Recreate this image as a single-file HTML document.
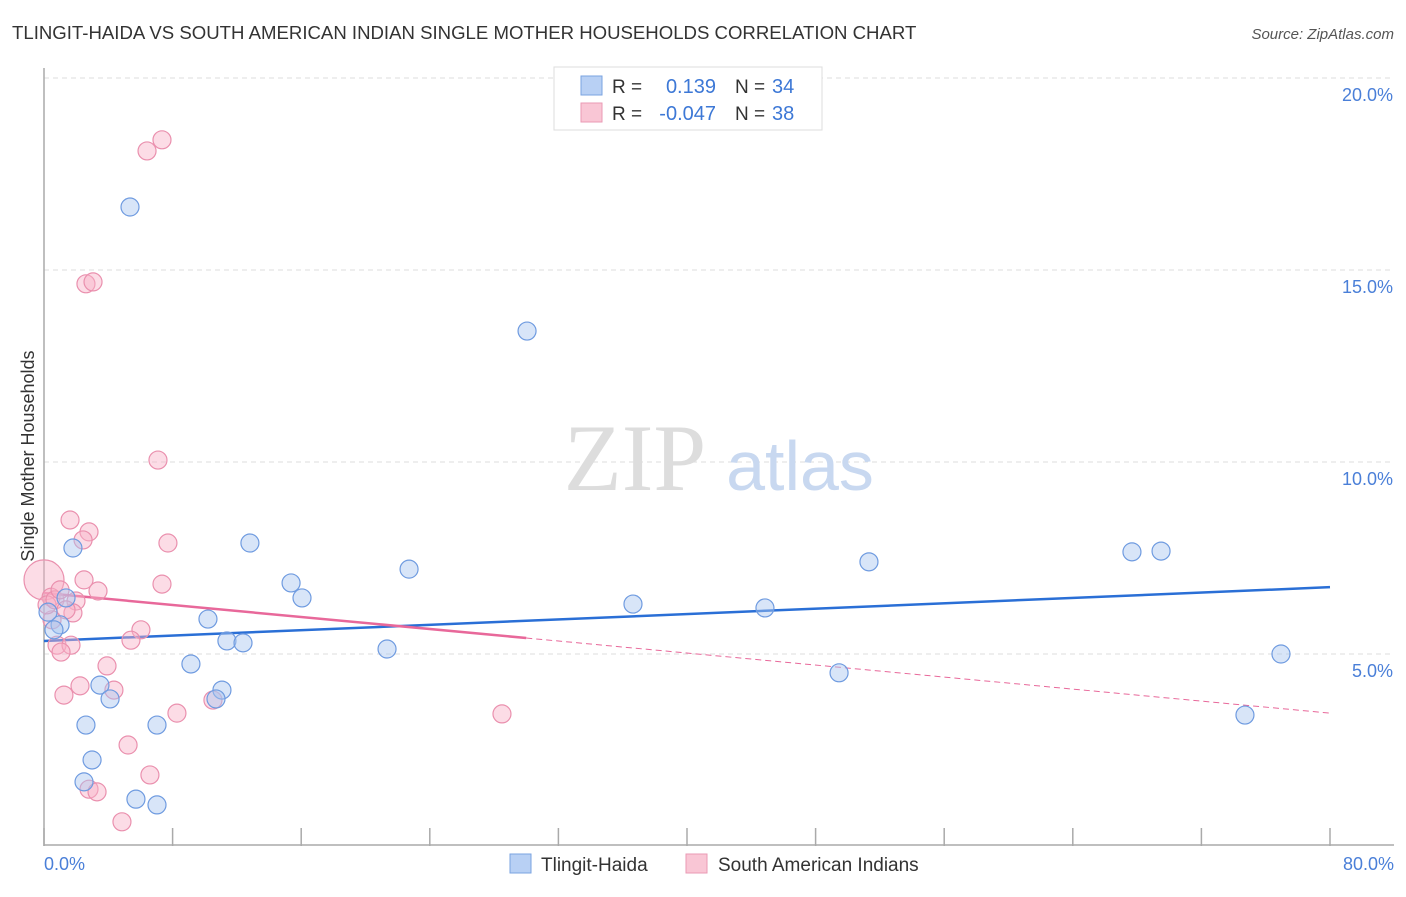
<!DOCTYPE html>
<html><head><meta charset="utf-8"><style>
body{margin:0;background:#fff;font-family:"Liberation Sans",sans-serif;}
svg text{font-family:"Liberation Sans",sans-serif;}
</style></head><body>
<svg id="chart" width="1406" height="892" xmlns="http://www.w3.org/2000/svg">
<text x="12" y="39" font-size="18.6" fill="#333">TLINGIT-HAIDA VS SOUTH AMERICAN INDIAN SINGLE MOTHER HOUSEHOLDS CORRELATION CHART</text>
<text x="1394" y="39" font-size="15" fill="#555" font-style="italic" text-anchor="end">Source: ZipAtlas.com</text>
<g id="grid"></g>
<text x="635" y="490" font-size="95" fill="#ddd" style="font-family:'Liberation Serif',serif" text-anchor="middle">ZIP</text>
<text x="800" y="490" font-size="70" fill="#c8d8f0" text-anchor="middle">atlas</text>
<line x1="44" y1="68" x2="44" y2="846" stroke="#aaa" stroke-width="1.5"/>
<line x1="44" y1="845" x2="1394" y2="845" stroke="#aaa" stroke-width="1.5"/>
<g id="xticks"></g>
<text x="44" y="870" font-size="18" fill="#4a7fd8">0.0%</text>
<text x="1394" y="870" font-size="18" fill="#4a7fd8" text-anchor="end">80.0%</text>
<text transform="translate(34,456) rotate(-90)" font-size="18" fill="#333" text-anchor="middle">Single Mother Households</text>
<g id="trends"></g>
<g id="points"></g>
<g>
<rect x="554" y="67" width="268" height="63" fill="#fff" stroke="#ddd"/>
<rect x="581" y="76" width="21" height="19" fill="#b8d0f4" stroke="#7aa3e0"/>
<rect x="581" y="103" width="21" height="19" fill="#f9c6d5" stroke="#ea9ab4"/>
<text x="612" y="93" font-size="19" fill="#333">R =</text>
<text x="716" y="93" font-size="20" fill="#3d78d6" text-anchor="end">0.139</text>
<text x="735" y="93" font-size="19" fill="#333">N =</text>
<text x="772" y="93" font-size="20" fill="#3d78d6">34</text>
<text x="612" y="120" font-size="19" fill="#333">R =</text>
<text x="716" y="120" font-size="20" fill="#3d78d6" text-anchor="end">-0.047</text>
<text x="735" y="120" font-size="19" fill="#333">N =</text>
<text x="772" y="120" font-size="20" fill="#3d78d6">38</text>
</g>
<g>
<rect x="510" y="854" width="21" height="19" fill="#b8d0f4" stroke="#7aa3e0"/>
<text x="541" y="871" font-size="19" fill="#333">Tlingit-Haida</text>
<rect x="686" y="854" width="21" height="19" fill="#f9c6d5" stroke="#ea9ab4"/>
<text x="718" y="871" font-size="19" fill="#333">South American Indians</text>
</g>
</svg>
<script>
const yTicks=[5,10,15,20];
const yTickLabels=["5.0%","10.0%","15.0%","20.0%"];
const xTicks=[0,8,16,24,32,40,48,56,64,72,80];
const blueX=[5.35,30.05,1.80,12.81,1.37,15.37,16.05,22.71,10.20,1.00,0.62,11.38,12.38,21.34,9.14,3.48,4.11,11.07,10.70,2.61,7.03,2.99,2.49,5.72,7.03,36.64,44.85,51.32,49.46,67.68,69.49,76.95,74.71,0.25];
const blueY=[16.64,13.41,7.76,7.89,6.46,6.85,6.46,7.21,5.91,5.76,5.63,5.34,5.29,5.13,4.74,4.19,3.83,4.06,3.83,3.15,3.15,2.24,1.67,1.22,1.07,6.30,6.20,7.40,4.51,7.66,7.68,5.00,3.41,6.09];
const pinkX=[6.41,7.34,2.61,3.05,7.09,1.62,2.80,2.43,7.71,2.49,0,7.34,3.36,0.44,1.99,1.80,0.50,6.03,5.41,0.81,1.68,1.06,3.92,2.24,4.35,1.24,8.27,10.51,28.49,5.23,6.59,2.80,3.30,4.85,0.19,0.68,1.37,1.0];
const pinkY=[18.10,18.39,14.64,14.69,10.05,8.49,8.18,7.97,7.89,6.93,6.93,6.82,6.64,6.48,6.38,6.07,5.89,5.63,5.36,5.23,5.23,5.05,4.69,4.17,4.06,3.93,3.46,3.80,3.44,2.63,1.85,1.48,1.41,0.63,6.28,6.41,6.15,6.67];
const blueTrend=[5.34,6.74];
const pinkTrend=[6.59,3.46];
const pinkSolidEnd=30;
const X=v=>44+v*1286/80, Y=v=>846-v*38.4;
const NS="http://www.w3.org/2000/svg";
function mk(tag,attrs,parent){const e=document.createElementNS(NS,tag);for(const k in attrs)e.setAttribute(k,attrs[k]);document.getElementById(parent).appendChild(e);return e;}
yTicks.forEach((t,i)=>{
 const l=mk('line',{x1:44,x2:1394,y1:Y(t),y2:Y(t),stroke:'#ddd','stroke-dasharray':'5,4'},'grid');
 
 
 const tx=mk('text',{x:1393,y:Y(t)+23,'font-size':18,fill:'#4a7fd8','text-anchor':'end'},'grid');
 tx.textContent=yTickLabels[i];
 
 
});
xTicks.forEach(t=>{
 const l=mk('line',{x1:X(t),x2:X(t),y1:828,y2:846,stroke:'#aaa','stroke-width':1.5},'xticks');
 
 
});
const lin=(a,b,x)=>a+(b-a)*x/80;
let t1=mk('line',{x1:X(0),y1:Y(blueTrend[0]),x2:X(80),y2:Y(blueTrend[1]),stroke:'#2a6fd6','stroke-width':2.5},'trends');


let t2=mk('line',{x1:X(0),y1:Y(pinkTrend[0]),x2:X(pinkSolidEnd),y2:Y(lin(pinkTrend[0],pinkTrend[1],pinkSolidEnd)),stroke:'#e8689a','stroke-width':2.5},'trends');


let t3=mk('line',{x1:X(pinkSolidEnd),y1:Y(lin(pinkTrend[0],pinkTrend[1],pinkSolidEnd)),x2:X(80),y2:Y(pinkTrend[1]),stroke:'#e8689a','stroke-width':1,'stroke-dasharray':'6,4'},'trends');


pinkX.forEach((x,i)=>{
 const c=mk('circle',{cx:X(x),cy:Y(pinkY[i]),r:(i===10?20:9),fill:'rgba(248,178,200,0.45)',stroke:'#ea90ae','stroke-width':1.2},'points');
 
 
});
blueX.forEach((x,i)=>{
 const c=mk('circle',{cx:X(x),cy:Y(blueY[i]),r:9,fill:'rgba(168,198,240,0.45)',stroke:'#6f9be0','stroke-width':1.2},'points');
 
 
});
</script>
</body></html>
